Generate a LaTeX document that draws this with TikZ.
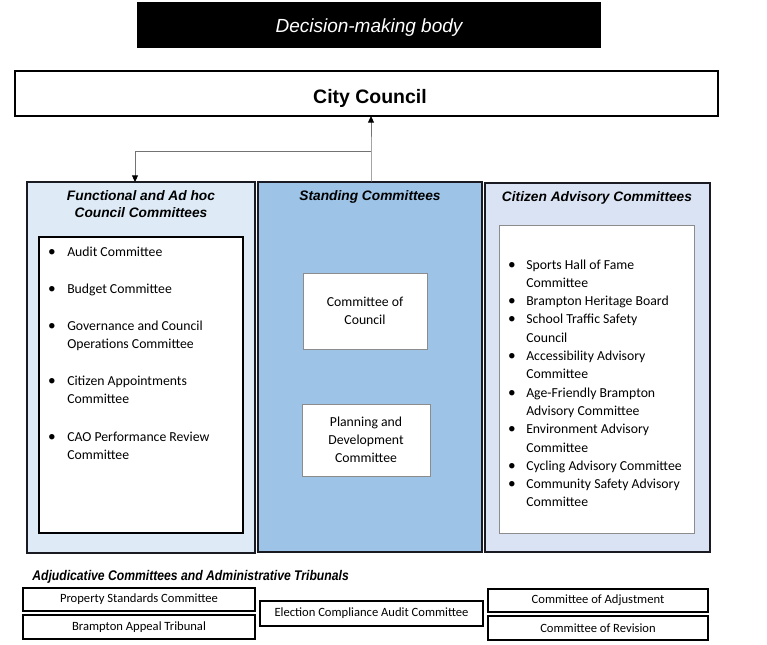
\documentclass[tikz,border=0pt]{standalone}
\usepackage{fontspec}
\setmainfont{Carlito}
\newfontfamily\arialf{Liberation Sans}
\newfontfamily\narrowf[FakeStretch=0.87]{Liberation Sans}
\usetikzlibrary{arrows.meta}
\definecolor{leftfill}{HTML}{DEEBF7}
\definecolor{midfill}{HTML}{9DC3E6}
\definecolor{rightfill}{HTML}{DAE3F3}
\definecolor{edgedark}{HTML}{1A1A22}
\tikzset{
  box/.style={rectangle, inner sep=0pt, outer sep=0pt},
  outerbox/.style={box, draw=edgedark, line width=1.1pt},
  graybox/.style={box, draw=black!45, line width=0.7pt, fill=white},
  blackbox/.style={box, draw=black, line width=1.1pt, fill=white},
  bottombox/.style={box, draw=black, line width=1.0pt, fill=white, font=\fontsize{9.45}{11}\selectfont},
  headtxt/.style={inner sep=0pt, font=\arialf\bfseries\itshape\fontsize{10.3}{12.5}\selectfont, align=center},
  listtxt/.style={inner sep=0pt, anchor=base west, font=\fontsize{10.3}{13.7}\selectfont},
  bullet/.style={inner sep=0pt, anchor=base, font=\fontsize{11.5}{13.7}\selectfont},
  conn/.style={draw=black!55, line width=0.75pt},
  tip/.style={-{Triangle[length=5pt,width=4.5pt,color=black]}}
}
\begin{document}
\begin{tikzpicture}[x=0.75pt,y=-0.75pt]
\useasboundingbox (0,0) rectangle (767,644);
% decision-making body
\node[box, fill=black, minimum width=348pt, minimum height=34.5pt] (dec) at (369,25) {};
\node[inner sep=0pt, anchor=base, text=white, font=\arialf\itshape\fontsize{14.25}{16}\selectfont] (dectext) at (369,32) {Decision-making body};
% city council
\node[box, draw=black, line width=1.1pt, fill=white, minimum width=527.25pt, minimum height=33.75pt] (cc) at (366.5,93.5) {};
\node[inner sep=0pt, anchor=base, font=\arialf\bfseries\fontsize{14.6}{17}\selectfont] (cctext) at (370,103) {City Council};
% three columns
\node[outerbox, fill=leftfill, minimum width=171pt, minimum height=278.25pt] (left) at (141,367.5) {};
\node[outerbox, fill=midfill, minimum width=168pt, minimum height=277.5pt] (mid) at (370,367) {};
\node[outerbox, fill=rightfill, minimum width=168.75pt, minimum height=276.75pt] (right) at (597.5,367.5) {};
% titles
\node[headtxt] (lefttitle) at (141,204) {Functional and Ad hoc\\Council Committees};
\node[headtxt, anchor=base] (midtitle) at (370,200) {Standing Committees};
\node[headtxt, anchor=base] (righttitle) at (597,201.5) {Citizen Advisory Committees};
% inner boxes
\node[blackbox, line width=1.5pt, minimum width=153pt, minimum height=222pt] (leftin) at (141,385) {};
\node[graybox, minimum width=146.25pt, minimum height=231pt] (rightin) at (596.5,379) {};
\node[graybox, minimum width=93pt, minimum height=57pt, align=center,
      font=\fontsize{10.3}{13.7}\selectfont] (coc) at (365,311) {Committee of\\Council};
\node[graybox, minimum width=96pt, minimum height=54pt, align=center,
      font=\fontsize{10.3}{13.7}\selectfont] (pdc) at (366,440) {Planning and\\Development\\Committee};
% left list
\foreach \yy [count=\i] in {256.5,293.5,330.5,385.5,441}
  \node[bullet] (lb\i) at (52,\yy) {•};
\foreach \yy/\tt [count=\i] in {256.5/Audit Committee, 293.5/Budget Committee,
    330.5/Governance and Council, 348.7/Operations Committee,
    385.5/Citizen Appointments, 403.7/Committee,
    441/CAO Performance Review, 459.2/Committee}
  \node[listtxt] (lt\i) at (67,\yy) {\tt};
% right list
\foreach \yy [count=\i] in {269,305.6,323.9,360.5,397.1,433.7,470.3,488.6}
  \node[bullet] (rb\i) at (512,\yy) {•};
\foreach \yy/\tt [count=\i] in {269/Sports Hall of Fame, 287.3/Committee,
    305.6/Brampton Heritage Board, 323.9/School Traffic Safety, 342.2/Council,
    360.5/Accessibility Advisory, 378.8/Committee,
    397.1/Age-Friendly Brampton, 415.4/Advisory Committee,
    433.7/Environment Advisory, 452/Committee,
    470.3/Cycling Advisory Committee,
    488.6/Community Safety Advisory, 506.9/Committee}
  \node[listtxt] (rt\i) at (526,\yy) {\tt};
% connectors
\coordinate (j) at (371,151);
\coordinate (k) at (135,151);
\draw[conn, tip] (mid.north -| j) -- (j) -- (j |- cc.south);
\draw[conn, tip] (j) -- (k) -- (k |- left.north);
% bottom section
\node[inner sep=0pt, anchor=base west, font=\narrowf\bfseries\itshape\fontsize{10.5}{12}\selectfont] (adjtitle) at (32,580) {Adjudicative Committees and Administrative Tribunals};
\node[bottombox, minimum width=174pt, minimum height=17.25pt] (ps) at (139,599.5) {Property Standards Committee};
\node[bottombox, minimum width=174pt, minimum height=18pt] (bat) at (139,627) {Brampton Appeal Tribunal};
\node[bottombox, minimum width=167.25pt, minimum height=18.75pt] (eca) at (371.5,613.5) {Election Compliance Audit Committee};
\node[bottombox, minimum width=165pt, minimum height=17.25pt] (coa) at (598,600.5) {Committee of Adjustment};
\node[bottombox, minimum width=165pt, minimum height=18pt] (cor) at (598,628) {Committee of Revision};
\end{tikzpicture}
\end{document}
